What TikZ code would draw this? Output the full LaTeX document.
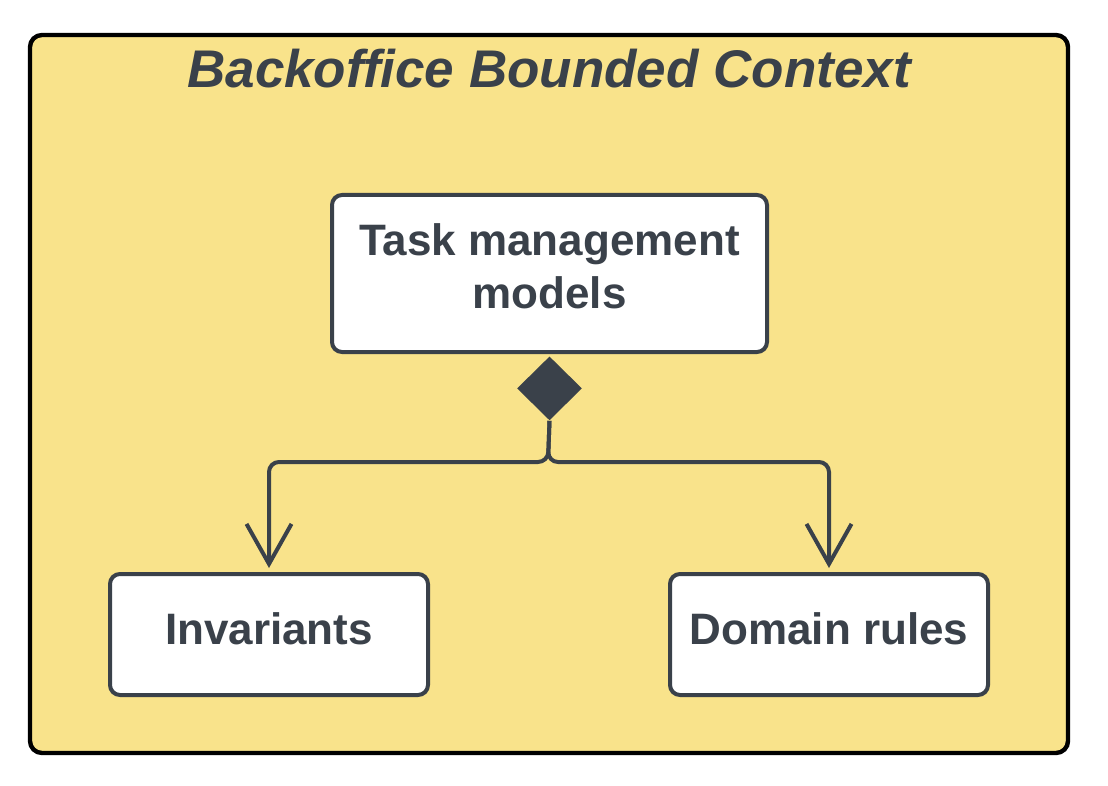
\documentclass[tikz,border=0pt]{standalone}
\usepackage{fontspec}
\setmainfont{Liberation Sans}
\usetikzlibrary{shapes.geometric,arrows.meta,positioning}
\definecolor{ctxfill}{HTML}{F9E38B}
\definecolor{ink}{HTML}{3A414A}

\begin{document}
\begin{tikzpicture}[x=0.5pt, y=-0.5pt,
  box/.style={draw=ink, line width=2pt, fill=white, rounded corners=5pt, text=ink,
    font=\fontsize{22}{26.5}\selectfont\bfseries, align=center},
  comp/.style={diamond, fill=ink, inner sep=0pt, minimum width=32.5pt, minimum height=32pt},
  link/.style={draw=ink, line width=2pt, rounded corners=5pt,
    -{Straight Barb[length=20pt,width=22.5pt]}}]
  \useasboundingbox (0,0) rectangle (1108,786);
  % bounded context frame
  \node[draw=black, line width=2.2pt, fill=ctxfill, rounded corners=6pt,
    minimum width=519pt, minimum height=359pt] (ctx) at (549,394) {};
  \node[anchor=base, text=ink, font=\fontsize{26.5}{30}\selectfont\bfseries\itshape] (title) at (549,88)
    {Backoffice Bounded Context};
  % models
  \node[box, minimum width=217.5pt, minimum height=78.5pt, text depth=7.5pt] (task) at (549.5,273.5)
    {Task management\\models};
  \node[comp, below=1pt of task] (comp) {};
  \node[box, minimum width=159pt, minimum height=60.5pt, text depth=6pt] (inv) at (269,634.5) {Invariants};
  \node[box, minimum width=159pt, minimum height=60.5pt, text depth=6pt] (dom) at (829,634.5) {Domain rules};
  \coordinate (fork) at (548,462);
  \draw[link] (comp.south) -- (fork) -| ([yshift=2pt]inv.north);
  \draw[link] (comp.south) -- (fork) -| ([yshift=2pt]dom.north);
\end{tikzpicture}
\end{document}
